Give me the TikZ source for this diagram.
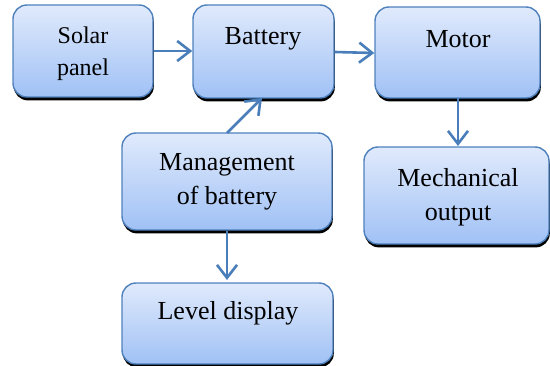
\documentclass[tikz,border=0pt]{standalone}
\usepackage{fontspec}
\setmainfont{Liberation Serif}
\usetikzlibrary{shadows,arrows.meta}
\definecolor{edgeblue}{RGB}{79,129,189}
\definecolor{arrowblue}{RGB}{74,126,187}
\definecolor{topblue}{RGB}{224,234,252}
\definecolor{botblue}{RGB}{160,193,245}
\tikzset{
  blockbox/.style={draw=edgeblue, line width=1.4pt, rounded corners=14pt,
    top color=topblue, bottom color=botblue, inner sep=0pt,
    drop shadow={shadow xshift=0.8pt, shadow yshift=-3.4pt, fill=black, opacity=1}},
  boxtext/.style={align=center, font=\rmfamily\fontsize{26}{34}\selectfont, inner sep=0pt},
  flow/.style={draw=arrowblue, line width=2.6pt,
    -{Straight Barb[length=13pt,width=20pt,line width=2.6pt]}}
}
\begin{document}
\begin{tikzpicture}[x=1pt,y=-1pt]
\useasboundingbox (0,0) rectangle (550,366);
% boxes
\node[blockbox, minimum width=140pt, minimum height=92pt] (solar) at (83,51) {};
\node[blockbox, minimum width=141pt, minimum height=93pt] (battery) at (263.5,51.5) {};
\node[blockbox, minimum width=165pt, minimum height=91pt] (motor) at (457.5,52.5) {};
\node[blockbox, minimum width=185pt, minimum height=97pt] (mech) at (456.5,195.5) {};
\node[blockbox, minimum width=210pt, minimum height=97pt] (mgmt) at (227,181.5) {};
\node[blockbox, minimum width=211pt, minimum height=81pt] (level) at (227.5,323.5) {};
% texts
\node[boxtext, font=\rmfamily\fontsize{24}{32}\selectfont] (solart) at (83,54) {Solar\\panel};
\node[boxtext] (batteryt) at (263,39) {Battery};
\node[boxtext] (motort) at (458,39) {Motor};
\node[boxtext] (mecht) at (458,197) {Mechanical\\output};
\node[boxtext] (mgmtt) at (227,182) {Management\\of battery};
\node[boxtext] (levelt) at (228,313) {Level display};
% connectors
\coordinate (s1) at (solar.east |- 0,51);
\coordinate (b1) at (battery.west |- 0,51);
\draw[flow] (s1) -- (b1);
\coordinate (b2) at (battery.east |- 0,52);
\coordinate (m1) at (motor.west |- 0,53);
\draw[flow] (b2) -- (m1);
\coordinate (g1) at (227,133);
\coordinate (b3) at (262,98);
\draw[flow] (g1) -- (b3);
\coordinate (m2) at (458,98);
\coordinate (c2) at (458,146);
\draw[flow] (m2) -- (c2);
\coordinate (g2) at (227,231);
\coordinate (l1) at (227,280);
\draw[flow] (g2) -- (l1);
\end{tikzpicture}
\end{document}
